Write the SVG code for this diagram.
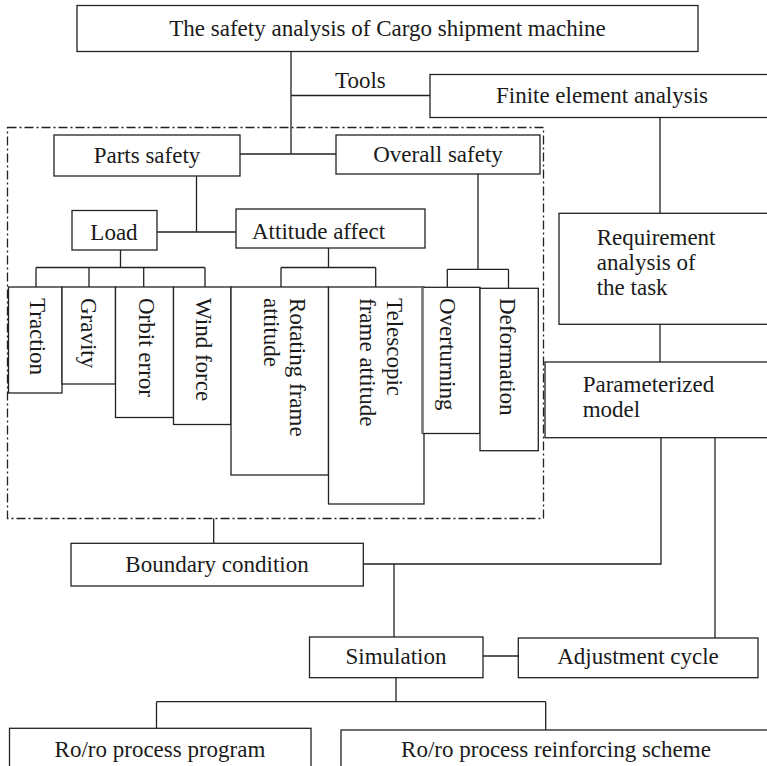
<svg xmlns="http://www.w3.org/2000/svg" width="767" height="766" viewBox="0 0 767 766">
<style>
  .box { fill: #fff; stroke: #222; stroke-width: 1.3; }
  .ln { fill: none; stroke: #222; stroke-width: 1.3; }
  .dash { fill: none; stroke: #222; stroke-width: 1.3; stroke-dasharray: 9 3 2 3; }
  text { font-family: "Liberation Serif", "Times New Roman", serif; font-size: 23px; fill: #1a1a1a; }
  .c { text-anchor: middle; }
</style>
<rect width="767" height="766" fill="#fff"/>
<g id="connectors">
  <rect class="dash" x="7.5" y="127.5" width="536" height="391"/>
  <path class="ln" d="M291 51.5V154M291 95.5H430M660 117.5V213.3M240 154H336"/>
  <path class="ln" d="M196.5 176V232M157 232H236"/>
  <path class="ln" d="M120.5 250V267.5M36 267.5H205M36 267.5V287M89 267.5V287M143.7 267.5V287M205 267.5V287"/>
  <path class="ln" d="M328.5 248V267.5M281 267.5H375.7M281 267.5V287M375.7 267.5V287"/>
  <path class="ln" d="M478 174V269.3M447.3 269.3H508.5M447.3 269.3V287.3M508.5 269.3V288.3"/>
  <path class="ln" d="M660 324.3V362"/>
  <path class="ln" d="M213.7 518.5V543.3"/>
  <path class="ln" d="M661 437.7V564H363.3M394 564V637"/>
  <path class="ln" d="M483 656H518.3"/>
  <path class="ln" d="M715 437.7V638"/>
  <path class="ln" d="M396 677.7V701.7M156.5 701.7H545.7M156.5 701.7V728.3M545.7 701.7V730"/>
</g>
<g id="title"><rect class="box" x="77" y="5.5" width="621" height="46"/><text class="c" x="387.5" y="36">The safety analysis of Cargo shipment machine</text></g>
<g id="tools"><text x="335" y="88">Tools</text></g>
<g id="fea"><rect class="box" x="430" y="74.5" width="340" height="43"/><text class="c" x="602" y="103">Finite element analysis</text></g>
<g id="parts-safety"><rect class="box" x="54" y="135" width="186" height="41"/><text class="c" x="147" y="163">Parts safety</text></g>
<g id="overall-safety"><rect class="box" x="336" y="135" width="204" height="39"/><text class="c" x="438" y="162">Overall safety</text></g>
<g id="load"><rect class="box" x="72" y="210.5" width="85" height="39.5"/><text class="c" x="114" y="240">Load</text></g>
<g id="attitude-affect"><rect class="box" x="236" y="209" width="189" height="39"/><text x="252" y="239">Attitude affect</text></g>
<g id="traction"><rect class="box" x="8.5" y="287" width="53.5" height="106"/><text transform="translate(29.5 298) rotate(90)">Traction</text></g>
<g id="gravity"><rect class="box" x="62" y="287" width="53.5" height="97"/><text transform="translate(80.5 298) rotate(90)">Gravity</text></g>
<g id="orbit-error"><rect class="box" x="115.5" y="287" width="58" height="130.5"/><text transform="translate(139 298) rotate(90)">Orbit error</text></g>
<g id="wind-force"><rect class="box" x="173.5" y="287" width="57.5" height="137.5"/><text transform="translate(196 298) rotate(90)">Wind force</text></g>
<g id="rotating"><rect class="box" x="231" y="287" width="97.5" height="188"/><text transform="translate(290 298) rotate(90)">Rotating frame</text><text transform="translate(263.5 298) rotate(90)">attitude</text></g>
<g id="telescopic"><rect class="box" x="328.5" y="287" width="95.5" height="217"/><text transform="translate(386.5 298) rotate(90)">Telescopic</text><text transform="translate(359.5 298) rotate(90)">frame attitude</text></g>
<g id="overturning"><rect class="box" x="422.5" y="287.3" width="57.5" height="146.2"/><line x1="422.5" y1="287.3" x2="422.5" y2="433.5" stroke="#777" stroke-width="2.5"/><text transform="translate(440 298) rotate(90)">Overturning</text></g>
<g id="deformation"><rect class="box" x="480" y="288.3" width="58.3" height="162.4"/><text transform="translate(500 298) rotate(90)">Deformation</text></g>
<g id="requirement"><rect class="box" x="559" y="213.3" width="211" height="111"/><text x="596.7" y="245">Requirement</text><text x="596.7" y="270">analysis of</text><text x="596.7" y="295">the task</text></g>
<g id="parameterized"><rect class="box" x="545" y="362" width="225" height="75.7"/><text x="582.7" y="391.7">Parameterized</text><text x="582.7" y="416.7">model</text></g>
<g id="boundary"><rect class="box" x="71" y="543.3" width="292.3" height="42.7"/><text class="c" x="217" y="572">Boundary condition</text></g>
<g id="simulation"><rect class="box" x="309.5" y="637" width="173.5" height="40.7"/><text class="c" x="396" y="664">Simulation</text></g>
<g id="adjustment"><rect class="box" x="518.3" y="638" width="239.7" height="39.7"/><text class="c" x="638" y="664">Adjustment cycle</text></g>
<g id="roro-program"><rect class="box" x="9.5" y="728.3" width="301.5" height="50"/><text class="c" x="160" y="757">Ro/ro process program</text></g>
<g id="roro-reinforcing"><rect class="box" x="341" y="730" width="430" height="50"/><text class="c" x="556" y="757">Ro/ro process reinforcing scheme</text></g>
</svg>
